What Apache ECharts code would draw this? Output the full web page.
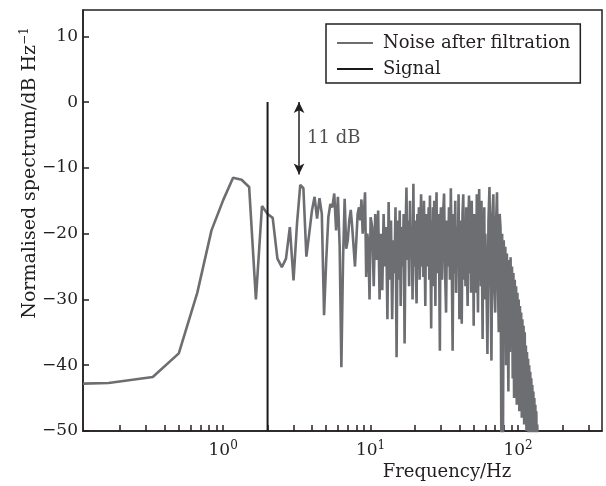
<!DOCTYPE html>
<html>
<head>
<meta charset="utf-8">
<script src="https://cdn.jsdelivr.net/npm/echarts@6/dist/echarts.min.js"></script>
<style>
  html, body { margin: 0; padding: 0; background: #fff; }
  #main { width: 606px; height: 486px; }
</style>
</head>
<body>
<div id="main"></div>
<script>
// axis range (Hz / dB)
const freqMin = 0.112, freqMax = 371;
const dbMin = -50, dbMax = 14;
const yTicks = [-50, -40, -30, -20, -10, 0, 10];
const decadeTicks = [1, 10, 100];
const minorTicks = [0.2, 0.3, 0.4, 0.5, 0.6, 0.7, 0.8, 0.9,
    2, 3, 4, 5, 6, 7, 8, 9, 20, 30, 40, 50, 60, 70, 80, 90, 200, 300];

// noise spectrum after filtration
const noiseFreq = [
    0.112, 0.167, 0.333, 0.5, 0.667, 0.833, 1, 1.167, 1.333, 1.5,
    1.667, 1.833, 2, 2.167, 2.333, 2.5, 2.667, 2.833, 3, 3.167,
    3.333, 3.5, 3.667, 3.833, 4, 4.167, 4.333, 4.5, 4.667, 4.833,
    5, 5.167, 5.333, 5.5, 5.667, 5.833, 6, 6.167, 6.333, 6.5,
    6.667, 6.833, 7, 7.167, 7.333, 7.5, 7.667, 7.833, 8, 8.167,
    8.333, 8.5, 8.667, 8.833, 9, 9.167, 9.333, 9.5, 9.667, 9.833,
    10,
    10.25, 10.5, 10.75, 11, 11.25, 11.5, 11.75, 12, 12.25, 12.5,
    12.75, 13, 13.25, 13.5, 13.75, 14, 14.25, 14.5, 14.75, 15,
    15.25, 15.5, 15.75, 16, 16.25, 16.5, 16.75, 17, 17.25, 17.5,
    17.75, 18, 18.25, 18.5, 18.75, 19, 19.25, 19.5, 19.75, 20,
    20.25, 20.5, 20.75, 21, 21.25, 21.5, 21.75, 22, 22.25, 22.5,
    22.75, 23, 23.25, 23.5, 23.75, 24, 24.25, 24.5, 24.75, 25,
    25.25, 25.5, 25.75, 26, 26.25, 26.5, 26.75, 27, 27.25, 27.5,
    27.75, 28, 28.25, 28.5, 28.75, 29, 29.25, 29.5, 29.75, 30,
    30.5, 31, 31.5, 32, 32.5, 33, 33.5, 34, 34.5, 35,
    35.5, 36, 36.5, 37, 37.5, 38, 38.5, 39, 39.5, 40,
    40.5, 41, 41.5, 42, 42.5, 43, 43.5, 44, 44.5, 45,
    45.5, 46, 46.5, 47, 47.5, 48, 48.5, 49, 49.5, 50,
    50.5, 51, 51.5, 52, 52.5, 53, 53.5, 54, 54.5, 55,
    55.5, 56, 56.5, 57, 57.5, 58, 58.5, 59, 59.5, 60,
    61, 62, 63, 64, 65, 66, 67, 68, 69, 70,
    71, 72, 73, 74, 75, 76, 77, 78, 79, 80,
    81, 82, 83, 84, 85, 86, 87, 88, 89, 90,
    91, 92, 93, 94, 95, 96, 97, 98, 99, 100,
    101, 102, 103, 104, 105, 106, 107, 108, 109, 110,
    111, 112, 113, 114, 115, 116, 117, 118, 119, 120,
    121, 122, 123, 124, 125, 126, 127, 128, 129, 130,
    131, 132, 133, 134, 135, 136
];
const noiseDb = [
    -42.8, -42.7, -41.8, -38.2, -29, -19.5, -14.9, -11.5, -11.8, -12.9,
    -30, -15.8, -17, -17.6, -23.8, -25.1, -23.8, -19, -27.1, -18.5,
    -12.6, -13.1, -23.5, -20, -16.5, -14.4, -17.7, -14.6, -17, -32.4,
    -24, -17.5, -15.5, -16, -13.9, -19.5, -14.4, -22, -40.3, -24,
    -14.7, -22.3, -21, -18, -16.4, -19, -22, -25, -21, -17,
    -16, -18, -14.8, -20, -17, -13.7, -26.6, -20, -22, -30,
    -17.5,
    -19, -28, -17, -24, -16.5, -30, -20, -28.6, -17, -25,
    -19, -33, -15.2, -27, -18, -33, -21, -26, -16, -38.8,
    -18, -27, -16.5, -31, -19, -25, -17, -36.7, -20, -13,
    -24, -18, -28, -15, -23, -19, -30, -12.4, -25, -18,
    -26, -30.6, -17, -24, -16, -27, -19, -14, -25, -18,
    -26.6, -15, -23, -31, -17, -25, -19, -22, -16, -27,
    -14.2, -24, -34.4, -18, -26, -16, -28, -15, -22, -31,
    -18, -13.7, -26, -19, -24, -17, -28, -37.8, -18, -16,
    -27, -17, -13.9, -26, -32, -18, -25, -16, -27, -13.1,
    -24, -37.8, -17, -26, -15, -29, -19, -24, -14, -33,
    -18, -26, -33.7, -17, -14, -27, -20, -28, -16, -25,
    -31, -18, -14.2, -26, -19, -29, -15, -24, -18, -34,
    -17, -27, -20, -29, -14, -25, -32, -18, -13.2, -27,
    -19, -28, -15, -26, -36, -17, -24, -16, -30, -20,
    -27, -38.3, -18, -12.9, -26, -39.3, -17, -14, -28, -32,
    -18, -13.7, -27, -35, -17, -19, -51, -20, -52, -21,
    -36, -22, -40, -23, -33, -44, -24, -38, -23.6, -36,
    -25, -42, -26, -45, -27, -38, -28, -46, -29, -40,
    -30, -47, -31, -43, -32, -48, -33, -44, -34, -49,
    -35, -45, -37, -50, -38, -47, -39, -51, -40, -48,
    -41, -52, -42, -49, -43, -53, -44, -50, -45, -54,
    -46, -52, -47, -55, -49, -56
];

// signal line and the 11 dB gap marker
const signalFreq = 2;
const signalDb = [-50, 0];
const gapFreq = 3.27;
const gapDb = [0, -11];

const lg = Math.log10;
const ink = '#231f20';
const serif = 'DejaVu Serif';

const chart = echarts.init(document.getElementById('main'));

const option = {
    animation: false,
    grid: {
        left: 83, right: 4, top: 10, bottom: 55,
        show: true, borderColor: ink, borderWidth: 1.5
    },
    legend: {
        data: ['Noise after filtration', 'Signal'],
        orient: 'vertical',
        left: 326, top: 24,
        padding: [10, 10, 5, 11],
        itemGap: 8,
        icon: 'rect',
        itemWidth: 36, itemHeight: 2,
        borderColor: ink, borderWidth: 1.5, borderRadius: 0,
        textStyle: { fontFamily: serif, fontSize: 18, lineHeight: 18, color: ink, padding: [0, 0, 0, 5] }
    },
    xAxis: {
        type: 'value',
        min: lg(freqMin), max: lg(freqMax),
        splitLine: { show: false },
        axisLine: { onZero: false, lineStyle: { color: ink, width: 1.5 } },
        axisTick: {
            inside: true, length: 6,
            customValues: decadeTicks.concat(minorTicks).map(lg),
            lineStyle: { color: ink, width: 1.5 }
        },
        axisLabel: {
            customValues: decadeTicks.map(lg),
            margin: 9,
            formatter: v => '{b|10}{s|' + Math.round(v) + '}',
            rich: {
                b: { fontFamily: serif, fontSize: 17, color: ink },
                s: { fontFamily: serif, fontSize: 12, color: ink, padding: [0, 0, 9, 0] }
            }
        }
    },
    yAxis: {
        type: 'value',
        min: dbMin, max: dbMax, interval: 10,
        splitLine: { show: false },
        axisLine: { onZero: false, lineStyle: { color: ink, width: 1.5 } },
        axisTick: {
            inside: true, length: 6, customValues: yTicks,
            lineStyle: { color: ink, width: 1.5 }
        },
        axisLabel: {
            customValues: yTicks,
            margin: 5,
            fontFamily: serif, fontSize: 17, color: ink,
            formatter: v => (v < 0 ? '\u2212' + Math.abs(v) : String(v))
        }
    },
    graphic: [
        {
            type: 'text',
            x: 447, y: 472,
            style: {
                text: 'Frequency/Hz', fontFamily: serif, fontSize: 18, fill: ink,
                align: 'center', verticalAlign: 'middle'
            }
        },
        {
            type: 'text',
            x: 30, y: 173,
            rotation: Math.PI / 2,
            style: {
                text: '{n|Normalised spectrum/dB Hz}{s|\u22121}',
                align: 'center', verticalAlign: 'middle',
                rich: {
                    n: { fontFamily: serif, fontSize: 19, fill: ink },
                    s: { fontFamily: serif, fontSize: 12, fill: ink, padding: [0, 0, 10, 0] }
                }
            }
        }
    ],
    series: [
        {
            name: 'Noise after filtration',
            type: 'line',
            symbol: 'none',
            clip: true,
            lineStyle: { color: '#6d6e71', width: 2.6 },
            itemStyle: { color: '#6d6e71' },
            data: noiseFreq.map((f, i) => [lg(f), noiseDb[i]])
        },
        {
            name: 'Signal',
            type: 'line',
            symbol: 'none',
            lineStyle: { color: '#1a1a1a', width: 2 },
            itemStyle: { color: '#1a1a1a' },
            data: signalDb.map(d => [lg(signalFreq), d]),
            markLine: {
                silent: true,
                symbol: ['arrow', 'arrow'],
                symbolSize: [8, 11],
                label: { show: false },
                lineStyle: { color: ink, width: 1.5, type: 'solid' },
                data: [[{ coord: [lg(gapFreq), gapDb[0]] }, { coord: [lg(gapFreq), gapDb[1]] }]]
            }
        },
        {
            name: 'gap',
            type: 'scatter',
            symbolSize: 0,
            silent: true,
            label: {
                show: true, position: 'right', distance: 8,
                formatter: '11 dB',
                fontFamily: serif, fontSize: 18, color: ink
            },
            data: [[lg(gapFreq), (gapDb[0] + gapDb[1]) / 2]]
        }
    ]
};
chart.setOption(option);
</script>
</body>
</html>
